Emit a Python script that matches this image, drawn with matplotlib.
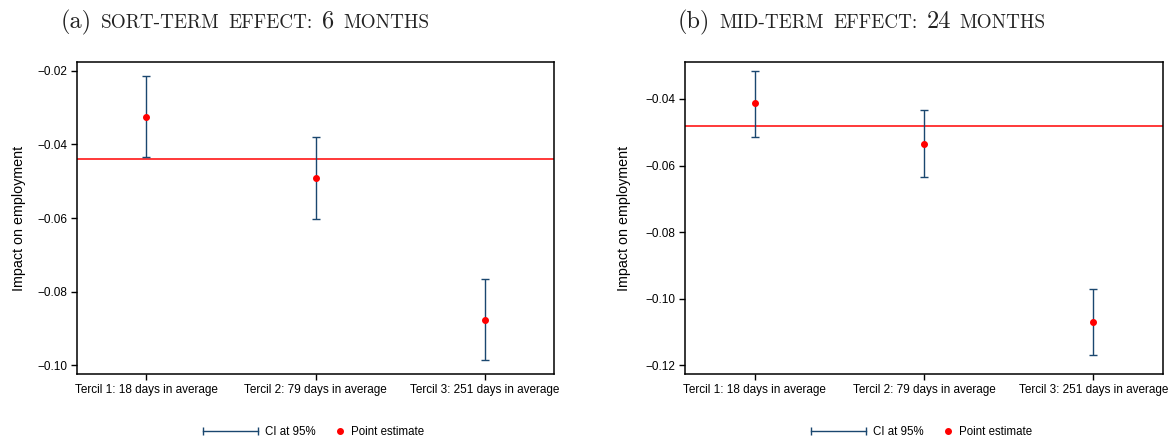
import matplotlib
matplotlib.use('Agg')
import matplotlib.pyplot as plt
from matplotlib.lines import Line2D
from matplotlib.legend_handler import HandlerLine2D
from matplotlib.offsetbox import TextArea, HPacker, AnnotationBbox
from matplotlib.ticker import FuncFormatter

# data
terciles = ['Tercil 1: 18 days in average', 'Tercil 2: 79 days in average',
            'Tercil 3: 251 days in average']

short_est = [-0.0325, -0.0492, -0.0877]
short_lo = [-0.0435, -0.0603, -0.0987]
short_hi = [-0.0214, -0.0381, -0.0766]
short_avg = -0.0440
short_ticks = [-0.10, -0.08, -0.06, -0.04, -0.02]

mid_est = [-0.0413, -0.0534, -0.1069]
mid_lo = [-0.0515, -0.0634, -0.1168]
mid_hi = [-0.0315, -0.0434, -0.0970]
mid_avg = -0.0481
mid_ticks = [-0.12, -0.10, -0.08, -0.06, -0.04]

navy = '#1a476f'
plt.rcParams['font.family'] = ['Liberation Sans', 'DejaVu Sans']


class HandlerCI(HandlerLine2D):
    # long horizontal bar with caps, drawn left of the (short) handle box
    # (units inside the legend handle box are points)
    def create_artists(self, legend, orig_handle, xdescent, ydescent, width,
                       height, fontsize, trans):
        y = (height - ydescent) / 2
        x1 = -xdescent + width - 1.5
        x0 = x1 - 39.5
        line = Line2D([x0, x1], [y, y], color=navy, lw=1.0, marker='|',
                      markersize=6, markeredgewidth=1.0, transform=trans)
        return [line]


fig = plt.figure(figsize=(11.76, 4.42), dpi=100)
panels = [
    (short_est, short_lo, short_hi, short_avg, short_ticks, (-0.1024, -0.0176),
     [0.0655, 0.1538, 0.4056, 0.7059], 336, -0.108,
     [('(a)', 17.5), ('SORT-TERM', 13.8), ('EFFECT:', 13.8), ('6', 17.5), ('MONTHS', 13.8)], 245),
    (mid_est, mid_lo, mid_hi, mid_avg, mid_ticks, (-0.1226, -0.0289),
     [0.5825, 0.1538, 0.4064, 0.7059], 944, -0.112,
     [('(b)', 17.5), ('MID-TERM', 13.8), ('EFFECT:', 13.8), ('24', 17.5), ('MONTHS', 13.8)], 862),
]

for est, lo, hi, avg, ticks, ylim, pos, leg_x, lab_x, words, title_x in panels:
    ax = fig.add_axes(pos)
    x = [1, 2, 3]
    err = [[e - l for e, l in zip(est, lo)], [h - e for e, h in zip(est, hi)]]
    ax.axhline(avg, color='#ff2a2a', lw=1.3, zorder=1)
    ax.errorbar(x, est, yerr=err, fmt='none', ecolor=navy, elinewidth=1.0,
                capsize=3, capthick=1.0, zorder=2)
    ax.plot(x, est, 'o', color='red', ms=4, zorder=3)

    ax.set_xlim(0.59, 3.41)
    ax.set_ylim(*ylim)
    ax.set_xticks(x)
    ax.set_xticklabels(terciles)
    ax.set_yticks(ticks)
    ax.yaxis.set_major_formatter(FuncFormatter(lambda v, p: f'{v:.2f}'.replace('-', '\u2212')))
    ax.tick_params(length=4.5, width=1.0, labelsize=8.5, pad=2.5, colors='black')
    for s in ax.spines.values():
        s.set_linewidth(1.1)
    ax.set_ylabel('Impact on employment', fontsize=10.3)
    ax.yaxis.set_label_coords(lab_x, 0.5)

    ci = Line2D([], [], color=navy)
    pt = Line2D([], [], color='red', marker='o', ls='none', ms=4)
    ax.legend([ci, pt], ['CI at 95%', 'Point estimate'], ncol=2, frameon=False,
              loc='center', bbox_to_anchor=(leg_x / 1176, 10 / 442),
              bbox_transform=fig.transFigure, fontsize=8.3, handlelength=1.0,
              handletextpad=0.46, columnspacing=1.6,
              handler_map={ci: HandlerCI(), pt: HandlerLine2D(numpoints=1)})

    boxes = [TextArea(w, textprops=dict(family='cmr10', size=s, color='#222222'))
             for w, s in words]
    title = HPacker(children=boxes, align='baseline', pad=0, sep=6.5)
    ab = AnnotationBbox(title, (title_x, 420), xycoords='figure pixels',
                        frameon=False, box_alignment=(0.5, 0.5))
    fig.add_artist(ab)

fig.savefig('out.png', dpi=100)
